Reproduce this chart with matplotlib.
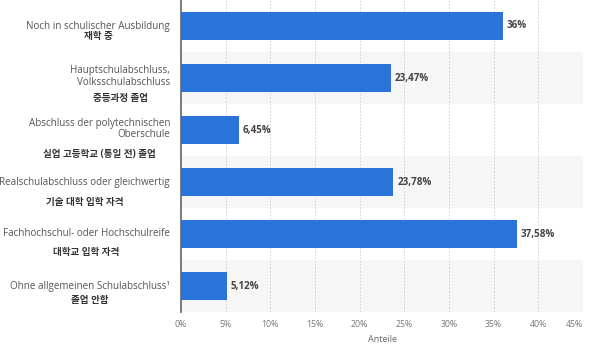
"""
Horizontal bar chart: highest school-leaving qualification (German / Korean labels).
"""

import numpy as np
import matplotlib
matplotlib.use("Agg")
import matplotlib.pyplot as plt

plt.rcParams["font.family"] = ["Open Sans", "Noto Sans CJK KR", "DejaVu Sans"]

LABELS_DE = [
    "Noch in schulischer Ausbildung",
    "Hauptschulabschluss,\nVolksschulabschluss",
    "Abschluss der polytechnischen\nOberschule",
    "Realschulabschluss oder gleichwertig",
    "Fachhochschul- oder Hochschulreife",
    "Ohne allgemeinen Schulabschluss\u00b9",
]
LABELS_KO = [
    "재학 중",
    "중등과정 졸업",
    "실업 고등학교 (통일 전) 졸업",
    "기술 대학 입학 자격",
    "대학교 입학 자격",
    "졸업 안함",
]
VALUES = [36.0, 23.47, 6.45, 23.78, 37.58, 5.12]
VALUE_TEXT = ["36%", "23,47%", "6,45%", "23,78%", "37,58%", "5,12%"]
XTICKS = [0, 5, 10, 15, 20, 25, 30, 35, 40, 45]

BAR_COLOR = "#2a74d9"
BAND_COLOR = "#f6f6f6"

# pixel offsets from row centre: (german block, korean line)
OFFSETS = [(0, 11), (-1.5, 20), (-1, 24), (0, 20), (-1, 18), (0, 15)]


def main():
    fig = plt.figure(figsize=(6, 3.46), dpi=100)
    ax = fig.add_axes([181 / 600, 1 - 312 / 346, (583 - 181) / 600, 312 / 346])

    y = np.arange(len(VALUES))
    for i in y:
        if i % 2 == 1:
            ax.axhspan(i - 0.5, i + 0.5, color=BAND_COLOR, zorder=0, lw=0)

    ax.barh(y, VALUES, height=0.55, color=BAR_COLOR, zorder=3)

    for i, (v, t) in enumerate(zip(VALUES, VALUE_TEXT)):
        ax.annotate(t, (v, i), xytext=(4, 0), textcoords="offset pixels",
                    va="center", ha="left", fontsize=7.1, fontweight="bold",
                    color="#444444")

    ax.set_xlim(0, 45)
    ax.set_ylim(len(VALUES) - 0.5, -0.5)
    ax.set_xticks(XTICKS)
    ax.set_xticklabels([f"{t}%" for t in XTICKS])
    ax.get_xticklabels()[-1].set_horizontalalignment("right")
    ax.set_yticks([])
    ax.tick_params(axis="x", length=0, labelsize=6.3, labelcolor="#777777", pad=6)
    ax.set_xlabel("Anteile", fontsize=6.5, color="#666666", labelpad=4)
    ax.grid(axis="x", color="#cccccc", linestyle=(0, (2, 2)), lw=0.6, zorder=1)
    ax.set_axisbelow(True)
    for s in ["top", "right", "bottom"]:
        ax.spines[s].set_visible(False)
    ax.spines["left"].set_color("#666666")
    ax.spines["left"].set_linewidth(1.2)
    ax.spines["left"].set_zorder(4)

    # German labels, right aligned
    de_texts = []
    for i, lab in enumerate(LABELS_DE):
        t = ax.annotate(lab, (0, i), xycoords=("axes fraction", "data"),
                        xytext=(-11, -OFFSETS[i][0]), textcoords="offset pixels",
                        ha="right", va="center", fontsize=7.1, color="#555555",
                        multialignment="right", linespacing=1.05)
        de_texts.append(t)

    # Korean lines centred under the German block
    fig.canvas.draw()
    for i, (t, lab) in enumerate(zip(de_texts, LABELS_KO)):
        bb = t.get_window_extent()
        cx = ((bb.x0 + bb.x1) / 2 - ax.bbox.x0) / ax.bbox.width
        ax.annotate(lab, (cx, i), xycoords=("axes fraction", "data"),
                    xytext=(0, -OFFSETS[i][1]), textcoords="offset pixels",
                    ha="center", va="center", fontsize=6.9, fontweight="bold",
                    color="#333333")

    fig.savefig("out.png", dpi=100)
    plt.close(fig)


if __name__ == "__main__":
    main()
